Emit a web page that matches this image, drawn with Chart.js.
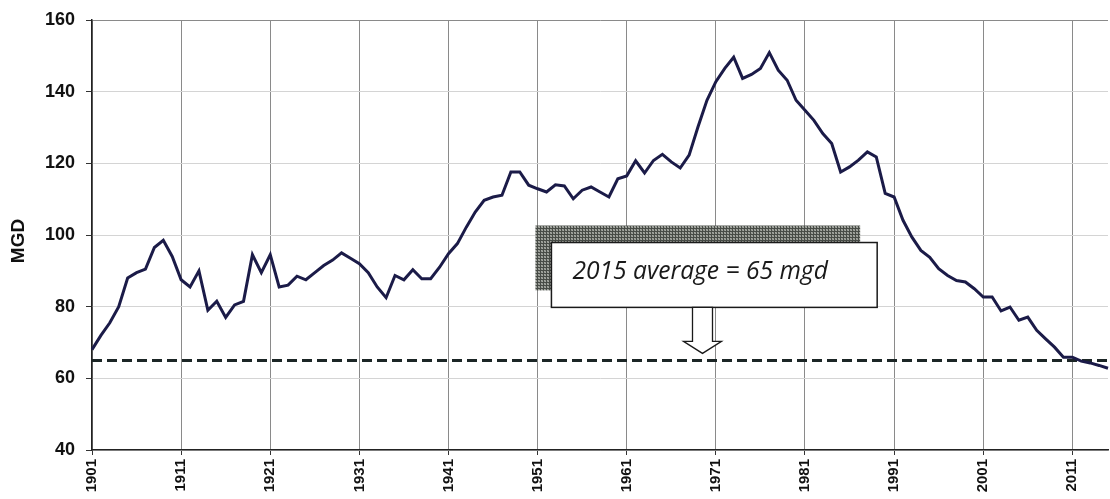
<!DOCTYPE html>
<html><head><meta charset="utf-8">
<script src="https://cdn.jsdelivr.net/npm/chart.js@4/dist/chart.umd.min.js"></script>
<style>html,body{margin:0;padding:0;background:#fff;overflow:hidden}</style>
</head><body>
<canvas id="c" width="1110" height="499"></canvas>
<script>
// ---- data ----
const YEARS = Array.from({length: 115}, (_, i) => String(1901 + i));
const MGD = [
  68, 72, 75.5, 80, 88, 89.5, 90.5, 96.5, 98.5, 94,            // 1901-1910
  87.5, 85.5, 90, 79, 81.5, 77, 80.5, 81.5, 94.5, 89.5,        // 1911-1920
  94.5, 85.5, 86, 88.5, 87.5, 89.5, 91.5, 93, 95, 93.5,        // 1921-1930
  92, 89.5, 85.5, 82.5, 88.7, 87.5, 90.3, 87.8, 87.8, 91,      // 1931-1940
  94.8, 97.6, 102.2, 106.4, 109.7, 110.6, 111.1, 117.6, 117.6, 113.9, // 1941-1950
  112.9, 112, 114, 113.7, 110.1, 112.5, 113.4, 112, 110.6, 115.7,     // 1951-1960
  116.5, 120.7, 117.3, 120.8, 122.5, 120.4, 118.7, 122.3, 130.2, 137.6, // 1961-1970
  142.8, 146.5, 149.6, 143.7, 144.8, 146.5, 150.9, 146, 143.2, 137.6,   // 1971-1980
  134.8, 132, 128.3, 125.5, 117.6, 119, 120.9, 123.2, 121.8, 111.6,     // 1981-1990
  110.6, 104.1, 99.4, 95.7, 93.8, 90.6, 88.7, 87.3, 86.9, 85,           // 1991-2000
  82.7, 82.7, 78.8, 79.9, 76.2, 77.1, 73.4, 71, 68.7, 65.9,             // 2001-2010
  65.9, 64.8, 64.3, 63.6, 62.8                                          // 2011-2015
];
const AVG_2015 = 65;
const X_TICK_LABELS = ['1901','1911','1921','1931','1941','1951','1961','1971','1981','1991','2001','2011'];
const Y_TITLE = 'MGD';
const NOTE_TEXT = '2015 average = 65 mgd';
// note box placed in data units (year, MGD)
const NOTE_BOX = {x0: 1952.55, x1: 1989.1, yTop: 97.9, yBot: 79.8};
const ARROW_YEAR = 1969.5;

// ---- dotted pattern for the shadow ----
function makePattern(ctx){
  const p = document.createElement('canvas'); p.width = 3; p.height = 3;
  const g = p.getContext('2d');
  g.fillStyle = '#5a5e58'; g.fillRect(0,0,3,3);
  g.fillStyle = '#474b46'; g.fillRect(0,0,3,1); g.fillRect(0,0,1,3);
  g.fillStyle = '#a7aaa4'; g.fillRect(1,1,1,1); g.fillRect(2,2,1,1);
  g.fillStyle = '#8d908a'; g.fillRect(2,1,1,1); g.fillRect(1,2,1,1);
  return ctx.createPattern(p, 'repeat');
}

const notePlugin = {
  id: 'note',
  afterDatasetsDraw(chart){
    const ctx = chart.ctx, xs = chart.scales.x, ys = chart.scales.y;
    const px = yr => xs.getPixelForValue(yr - 1901);
    const bx0 = px(NOTE_BOX.x0), bx1 = px(NOTE_BOX.x1);
    const by0 = ys.getPixelForValue(NOTE_BOX.yTop), by1 = ys.getPixelForValue(NOTE_BOX.yBot);
    ctx.save();
    // shadow
    ctx.fillStyle = makePattern(ctx);
    ctx.fillRect(bx0 - 16, by0 - 17, bx1 - bx0 - 1, by1 - by0);
    // box
    ctx.fillStyle = '#ffffff';
    ctx.fillRect(bx0, by0, bx1 - bx0, by1 - by0);
    ctx.strokeStyle = '#1a1a1a'; ctx.lineWidth = 1.5;
    ctx.strokeRect(bx0, by0, bx1 - bx0, by1 - by0);
    // text
    ctx.fillStyle = '#1a1a1a';
    ctx.font = 'italic 24.6px "Open Sans"';
    ctx.textAlign = 'left'; ctx.textBaseline = 'alphabetic';
    ctx.fillText(NOTE_TEXT, bx0 + 21, by0 + 36);
    // arrow
    const ax = px(ARROW_YEAR);
    const tip = ys.getPixelForValue(AVG_2015) - 7;
    const headTop = tip - 12;
    ctx.beginPath();
    ctx.moveTo(ax - 10, by1);
    ctx.lineTo(ax - 10, headTop);
    ctx.lineTo(ax - 19, headTop);
    ctx.lineTo(ax, tip);
    ctx.lineTo(ax + 19, headTop);
    ctx.lineTo(ax + 10, headTop);
    ctx.lineTo(ax + 10, by1);
    ctx.closePath();
    ctx.fillStyle = '#fff'; ctx.fill();
    ctx.lineWidth = 1.3; ctx.strokeStyle = '#1a1a1a'; ctx.stroke();
    ctx.restore();
  },
  afterDraw(chart){
    const ctx = chart.ctx, a = chart.chartArea;
    ctx.save();
    ctx.translate(19, (a.top + a.bottom) / 2 + 6);
    ctx.rotate(-Math.PI / 2);
    ctx.font = 'bold 19px "Liberation Sans"';
    ctx.fillStyle = '#111';
    ctx.textAlign = 'center'; ctx.textBaseline = 'middle';
    ctx.fillText(Y_TITLE, 0, 0);
    ctx.restore();
  }
};

new Chart(document.getElementById('c'), {
  type: 'line',
  data: {
    labels: YEARS,
    datasets: [
      {data: MGD, borderColor: '#1b1b48', borderWidth: 3, pointRadius: 0, tension: 0},
      {data: [{x: YEARS[0], y: AVG_2015}, {x: YEARS[YEARS.length - 1], y: AVG_2015}],
       borderColor: '#1c2626', borderWidth: 3, borderDash: [10, 5], pointRadius: 0}
    ]
  },
  options: {
    responsive: false, animation: false, devicePixelRatio: 1,
    layout: {padding: {left: 0, right: 2, top: 20, bottom: 0}},
    plugins: {legend: {display: false}, tooltip: {enabled: false}},
    scales: {
      x: {
        type: 'category', offset: false,
        grid: {
          color: c => (c.tick && X_TICK_LABELS.includes(c.tick.label)) ? '#8a8a8a' : 'rgba(0,0,0,0)',
          tickColor: c => (c.tick && X_TICK_LABELS.includes(c.tick.label)) ? '#333' : 'rgba(0,0,0,0)',
          tickLength: 5, lineWidth: 1
        },
        border: {color: '#222', width: 1.5},
        ticks: {
          autoSkip: false, maxRotation: 90, minRotation: 90, padding: 4,
          font: {family: '"Liberation Sans"', weight: 'bold', size: 15}, color: '#111',
          callback: (v, i) => X_TICK_LABELS.includes(YEARS[i]) ? YEARS[i] : ''
        },
        afterFit: s => { s.height = 49; s.paddingLeft = 0; s.paddingRight = 0; }
      },
      y: {
        min: 40, max: 160,
        ticks: {stepSize: 20, font: {family: '"Liberation Sans"', weight: 'bold', size: 18}, color: '#111', padding: 11},
        grid: {
          color: c => (c.tick && c.tick.value === 160) ? '#8a8a8a' : '#d4d4d4',
          tickColor: '#333', tickLength: 6, lineWidth: 1
        },
        border: {color: '#222', width: 1.5},
        title: {display: false},
        afterFit: s => { s.width = 92; s.paddingTop = 0; s.paddingBottom = 0; }
      }
    }
  },
  plugins: [notePlugin]
});
</script>
</body></html>
